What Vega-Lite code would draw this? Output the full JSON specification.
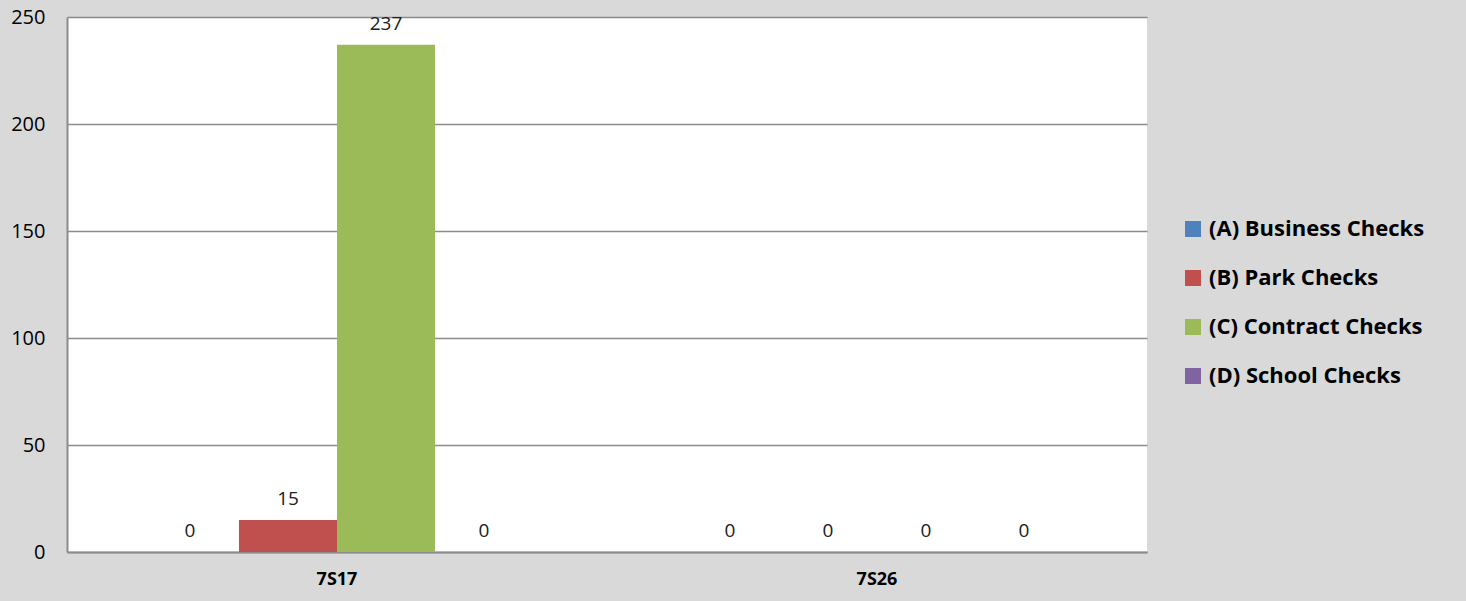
{
  "$schema": "https://vega.github.io/schema/vega-lite/v6.json",
  "autosize": "none",
  "width": 1080,
  "height": 535,
  "padding": {"left": 67, "top": 17, "right": 319, "bottom": 49},
  "background": "#d9d9d9",
  "config": {
    "view": {"fill": "white", "stroke": null},
    "font": "Open Sans"
  },
  "data": {
    "values": [
      {"site": "7S17", "series": "(A) Business Checks", "value": 0},
      {"site": "7S17", "series": "(B) Park Checks", "value": 15},
      {"site": "7S17", "series": "(C)  Contract Checks", "value": 237},
      {"site": "7S17", "series": "(D) School Checks", "value": 0},
      {"site": "7S26", "series": "(A) Business Checks", "value": 0},
      {"site": "7S26", "series": "(B) Park Checks", "value": 0},
      {"site": "7S26", "series": "(C)  Contract Checks", "value": 0},
      {"site": "7S26", "series": "(D) School Checks", "value": 0}
    ]
  },
  "encoding": {
    "x": {
      "field": "site", "type": "nominal",
      "scale": {"paddingInner": 0.274, "paddingOuter": 0.137},
      "axis": {
        "title": null, "labelAngle": 0, "labelFont": "Open Sans", "labelFontWeight": "bold",
        "labelFontSize": 18, "labelColor": "#000000", "labelPadding": 18,
        "ticks": false, "domainColor": "#8c8c8c", "domainWidth": 2
      }
    },
    "xOffset": {"field": "series", "type": "nominal", "scale": {"paddingInner": 0, "paddingOuter": 0}},
    "y": {
      "field": "value", "type": "quantitative",
      "scale": {"domain": [0, 250], "nice": false},
      "axis": {
        "title": null, "values": [0, 50, 100, 150, 200, 250], "ticks": false,
        "labelFontSize": 20, "labelColor": "#000000", "labelPadding": 22,
        "domainColor": "#8c8c8c", "domainWidth": 2,
        "gridColor": "#8c8c8c", "gridWidth": 1.5
      }
    }
  },
  "layer": [
    {
      "mark": {"type": "bar"},
      "encoding": {
        "color": {
          "field": "series", "type": "nominal",
          "scale": {
            "domain": ["(A) Business Checks", "(B) Park Checks", "(C)  Contract Checks", "(D) School Checks"],
            "range": ["#4F81BD", "#C0504D", "#9BBB59", "#8064A2"]
          },
          "legend": {
            "title": null, "orient": "none", "legendX": 1115, "legendY": 201,
            "symbolType": "square", "symbolSize": 256, "symbolStrokeWidth": 0,
            "labelFontSize": 22, "labelFontWeight": "bold", "labelColor": "#000000",
            "labelFont": "Open Sans", "rowPadding": 27, "labelOffset": 5, "labelLimit": 0
          }
        }
      }
    },
    {
      "mark": {"type": "text", "baseline": "bottom", "dy": -11, "fontSize": 19, "color": "#202020"},
      "encoding": {"text": {"field": "value", "type": "quantitative"}}
    }
  ]
}
